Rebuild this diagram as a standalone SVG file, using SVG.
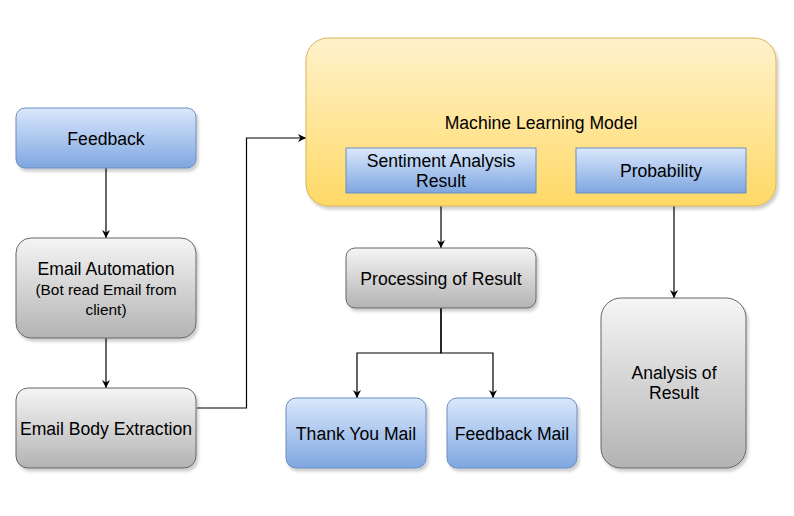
<svg xmlns="http://www.w3.org/2000/svg" width="794" height="516" viewBox="0 0 794 516">
<defs>
<linearGradient id="gBlue" x1="0" y1="0" x2="0" y2="1"><stop offset="0" stop-color="#dae8fc"/><stop offset="1" stop-color="#7ea6e0"/></linearGradient>
<linearGradient id="gGray" x1="0" y1="0" x2="0" y2="1"><stop offset="0" stop-color="#f5f5f5"/><stop offset="1" stop-color="#b3b3b3"/></linearGradient>
<linearGradient id="gYellow" x1="0" y1="0" x2="0" y2="1"><stop offset="0" stop-color="#fff2cc"/><stop offset="1" stop-color="#ffd966"/></linearGradient>
<filter id="shadow" x="-10%" y="-10%" width="130%" height="130%"><feDropShadow dx="2" dy="3" stdDeviation="1.5" flood-color="#000" flood-opacity="0.2"/></filter>
<marker id="arr" viewBox="0 0 10 10" refX="10" refY="5" markerWidth="8" markerHeight="8" markerUnits="userSpaceOnUse" orient="auto"><path d="M0,0 L10,5 L0,10 L3,5 z" fill="#000"/></marker>
</defs>
<style>
.blue{fill:url(#gBlue);stroke:#6c8ebf;stroke-width:1;filter:url(#shadow)}
.gray{fill:url(#gGray);stroke:#666666;stroke-width:1;filter:url(#shadow)}
.yellow{fill:url(#gYellow);stroke:#d6b656;stroke-width:1;filter:url(#shadow)}
.inner{fill:url(#gBlue);stroke:#6c8ebf;stroke-width:1}
text{font-family:"Liberation Sans",Arial,sans-serif;font-size:17.6px;fill:#000;text-anchor:middle}
.sm{font-size:15.4px}
.edge{fill:none;stroke:#000;stroke-width:1.2;marker-end:url(#arr)}
</style>
<rect width="794" height="516" fill="#fff"/>
<g id="connectors">
<path class="edge" d="M106,168 V238"/>
<path class="edge" d="M106,338 V388"/>
<path class="edge" d="M197,408 H246.5 V138 H306"/>
<path class="edge" d="M441,193 V248"/>
<path class="edge" d="M441,308 V353 H357 V398"/>
<path class="edge" d="M441,308 V353 H493 V398"/>
<path class="edge" d="M674,193 V298"/>
</g>
<g id="feedback"><rect class="blue" x="16" y="108" width="180" height="60" rx="9"/><text x="106" y="145">Feedback</text></g>
<g id="email-automation"><rect class="gray" x="16" y="238" width="180" height="100" rx="15"/><text x="106" y="275">Email Automation</text><text class="sm" x="106" y="295">(Bot read Email from</text><text class="sm" x="106" y="315">client)</text></g>
<g id="email-body-extraction"><rect class="gray" x="16" y="388" width="180" height="80" rx="12"/><text x="106" y="435">Email Body Extraction</text></g>
<g id="ml-model"><rect class="yellow" x="306" y="38" width="470" height="168" rx="22"/><text x="541" y="129">Machine Learning Model</text></g>
<g id="sentiment"><rect class="inner" x="346" y="148" width="190" height="45"/><text x="441" y="167">Sentiment Analysis</text><text x="441" y="187">Result</text></g>
<g id="probability"><rect class="inner" x="576" y="148" width="170" height="45"/><text x="661" y="177">Probability</text></g>
<g id="processing"><rect class="gray" x="346" y="248" width="190" height="60" rx="9"/><text x="441" y="285">Processing of Result</text></g>
<g id="thank-you-mail"><rect class="blue" x="286" y="398" width="140" height="70" rx="10"/><text x="356" y="440">Thank You Mail</text></g>
<g id="feedback-mail"><rect class="blue" x="447" y="398" width="130" height="70" rx="10"/><text x="512" y="440">Feedback Mail</text></g>
<g id="analysis"><rect class="gray" x="601" y="298" width="145" height="170" rx="20"/><text x="674" y="379">Analysis of</text><text x="674" y="399">Result</text></g>
</svg>
